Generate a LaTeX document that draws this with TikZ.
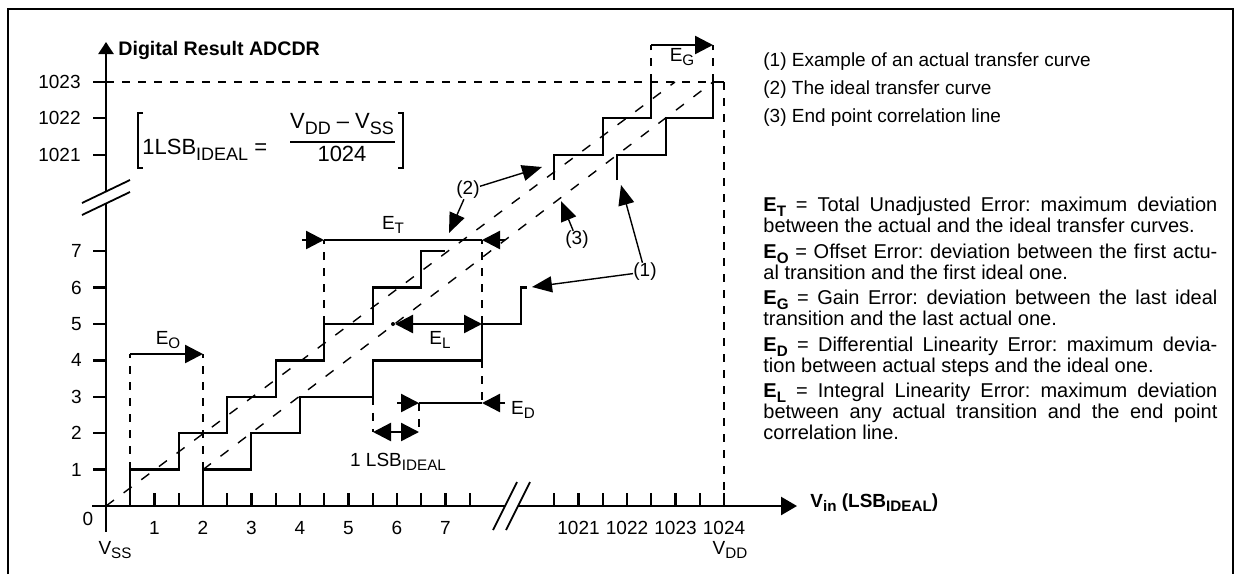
\documentclass[tikz,border=0pt]{standalone}
\usepackage{fontspec}
\setmainfont{Liberation Sans}
\usetikzlibrary{arrows.meta, positioning}

\newcommand{\subsc}[1]{\raisebox{-0.4ex}{\fontsize{7.6pt}{7.6pt}\selectfont #1}}
\newcommand{\lsbsub}[1]{\raisebox{-3pt}{\fontsize{9pt}{9pt}\selectfont #1}}
\frenchspacing

\begin{document}
\begin{tikzpicture}[
x=0.5pt, y=-0.5pt,
every node/.style={inner sep=0pt, font=\fontsize{9.5pt}{8pt}\selectfont},
outline/.style={line width=1.4pt},
axis/.style={line width=1.2pt},
stair/.style={line width=1.2pt},
guide/.style={line width=1.2pt, dash pattern=on 4pt off 4pt},
diag/.style={line width=0.7pt, dash pattern=on 5pt off 6pt},
dim/.style={line width=1.2pt, -{Triangle[length=9pt, width=9pt]}},
dimboth/.style={line width=1.2pt, {Triangle[length=9pt, width=9pt]}-{Triangle[length=9pt, width=9pt]}},
pointer/.style={line width=0.7pt, -{Triangle[length=10pt, width=8pt]}},
formula/.style={font=\fontsize{11pt}{11pt}\selectfont},
legtext/.style={anchor=west},
defn/.style={anchor=north west, text width=227pt, align=justify, font=\fontsize{10pt}{8.3pt}\selectfont,
  execute at begin node={\spaceskip=.278em plus .3em minus .12em\hyphenpenalty=10000\tolerance=10000}}
]
\useasboundingbox (0,0) rectangle (1236,574);

% Frame
\draw[outline] (8,574) -- (8,9) -- (1233,9) -- (1233,574);

% Axes
\draw[axis, -{Triangle[length=6pt, width=7.5pt]}] (106,192) -- (106,42);
\draw[axis] (106,204) -- (106,532);
\draw[axis] (92,506) -- (505,506);
\draw[axis, -{Triangle[length=8pt, width=9pt]}] (518,506) -- (797,506);

% Axis breaks
\draw[line width=0.9pt] (82,203) -- (130,180) (82,215) -- (130,192);
\draw[line width=0.9pt] (493,530) -- (517,482) (506,530) -- (530,482);

\node[anchor=west, font=\fontsize{9.8pt}{9.8pt}\selectfont] (ytitle) at (118,50) {\textbf{Digital Result ADCDR}};
\node[anchor=west] (xtitle) at (810,503) {\textbf{V\subsc{in} (LSB\subsc{IDEAL})}};

% Ticks on the digital result axis
\foreach \v/\lab in {82/1023, 118/1022, 155/1021} {
  \draw[axis] (93,\v) -- (106,\v);
  \node[anchor=east] (yhi\lab) at (81,\v) {\lab};
}
\foreach \k in {1,...,7} {
  \draw[axis] (93,{506-36.4*\k}) -- (106,{506-36.4*\k});
  \node[anchor=east] (ylo\k) at (82,{506-36.4*\k}) {\k};
}

% Ticks on the input axis
\foreach \k in {1,...,15}
  \draw[axis] ({106+24.25*\k},493) -- ({106+24.25*\k},506);
\foreach \j in {0,...,7}
  \draw[axis] ({724-24.25*\j},493) -- ({724-24.25*\j},506);
\foreach \k in {1,...,7}
  \node (xlo\k) at ({106+48.5*\k},528) {\k};
\foreach \u in {1021,...,1024}
  \node (xhi\u) at ({724-48.5*(1024-\u)},528) {\u};
\node (zero) at (88,519) {0};
\node (vss) at (115,550) {V\subsc{SS}};
\node (vdd) at (730,550) {V\subsc{DD}};

% Formula
\draw[line width=0.6pt] (143,113) -- (138,113) -- (138,168) -- (143,168);
\draw[line width=0.6pt] (398,113) -- (403,113) -- (403,168) -- (398,168);
\node[formula, anchor=base west] (lsbeq) at (142,154) {1LSB\lsbsub{IDEAL} =};
\node[formula] (lsbnum) at (342,124) {V\lsbsub{DD} \textendash\ V\lsbsub{SS}};
\node[formula] (lsbden) at (342,154) {1024};
\draw[line width=0.7pt] (290,142) -- (395,142);

% Guide lines
\draw[guide] (106,82) -- (713,82);
\draw[guide] (724,82) -- (724,506);
\draw[guide] (130,469.6) -- (130,354);
\draw[guide] (203,469.6) -- (203,354);
\draw[guide] (324,324) -- (324,240);
\draw[guide] (482,324) -- (482,240);
\draw[guide] (482,360.4) -- (482,403);
\draw[guide] (373,396.8) -- (373,432);
\draw[guide] (419,403) -- (419,432);
\draw[guide] (651,82) -- (651,45);
\draw[guide] (713,82) -- (713,45);

% Ideal and end point lines
\draw[diag] (106,506) -- (675,82);
\draw[diag] (203,469.6) -- (713,82);

% Ideal transfer curve
\draw[stair] (130,506) -- (130,469.6) -- (179,469.6) -- (179,433.2) -- (227,433.2)
  -- (227,396.8) -- (276,396.8) -- (276,360.4) -- (324,360.4) -- (324,324)
  -- (373,324) -- (373,287.6) -- (421,287.6) -- (421,251.2) -- (445,251.2);
\draw[stair] (554,180) -- (554,155) -- (603,155) -- (603,118) -- (651,118) -- (651,82);

% Actual transfer curve
\draw[stair] (203,506) -- (203,469.6) -- (251,469.6) -- (251,433.2) -- (300,433.2)
  -- (300,396.8) -- (373,396.8) -- (373,360.4) -- (482,360.4) -- (482,324)
  -- (521,324) -- (521,287.6) -- (527,287.6);
\draw[stair] (617,180) -- (617,155) -- (666,155) -- (666,118) -- (713,118) -- (713,82) -- (724,82);

% Error dimensions
\coordinate (eoL) at (130,354);
\coordinate (eoR) at (203,354);
\draw[dim] (eoL) -- (eoR);
\node (eo) at (168,340) {E\subsc{O}};

\coordinate (etL) at (324,240);
\coordinate (etR) at (482,240);
\draw[dim] (302,240) -- (etL);
\draw[dim] (505,240) -- (etR);
\draw[axis] (etL) -- (etR);
\node (et) at (393,225) {E\subsc{T}};

\coordinate (elL) at (395,324);
\coordinate (elR) at (482,324);
\fill (393,324) circle (1pt);
\draw[dimboth] (elL) -- (elR);
\node (el) at (440,340) {E\subsc{L}};

\coordinate (edL) at (419,403);
\coordinate (edR) at (482,403);
\draw[dim] (397,403) -- (edL);
\draw[dim] (505,403) -- (edR);
\draw[axis] (edL) -- (edR);
\node (ed) at (523,410) {E\subsc{D}};

\coordinate (lsbL) at (373,432);
\coordinate (lsbR) at (419,432);
\draw[dimboth] (lsbL) -- (lsbR);
\node (lsb) at (398,462) {1 LSB\subsc{IDEAL}};

\coordinate (egL) at (651,45);
\coordinate (egR) at (713,45);
\draw[dim] (egL) -- (egR);
\node (eg) at (682,57) {E\subsc{G}};

% Curve labels
\node (p2) at (468,190) {(2)};
\node (p3) at (577,240) {(3)};
\node (p1) at (645,272) {(1)};
\coordinate (p2a) at (542,167);
\coordinate (p2b) at (449,233);
\coordinate (p3a) at (561,201);
\coordinate (p1a) at (532,287);
\coordinate (p1b) at (621,185);
\draw[pointer] (p2) -- (p2a);
\draw[pointer] (p2) -- (p2b);
\draw[pointer] (p3) -- (p3a);
\draw[pointer] (p1) -- (p1a);
\draw[pointer] (p1) -- (p1b);

% Legend
\node[legtext] (leg1) at (763,62) {(1) Example of an actual transfer curve};
\node[legtext, below=14pt of leg1.west, anchor=west] (leg2) {(2) The ideal transfer curve};
\node[legtext, below=14pt of leg2.west, anchor=west] (leg3) {(3) End point correlation line};

% Definitions
\node[defn] (defT) at (763,197) {\textbf{E\subsc{T}} = Total Unadjusted Error: maximum deviation\linebreak between the actual and the ideal transfer curves.};
\node[defn] (defO) at (763,244) {\textbf{E\subsc{O}} = Offset Error: deviation between the first actu-\linebreak al transition and the first ideal one.};
\node[defn] (defG) at (763,290) {\textbf{E\subsc{G}} = Gain Error: deviation between the last ideal\linebreak transition and the last actual one.};
\node[defn] (defD) at (763,337) {\textbf{E\subsc{D}} = Differential Linearity Error: maximum devia-\linebreak tion between actual steps and the ideal one.};
\node[defn] (defL) at (763,383) {\textbf{E\subsc{L}} = Integral Linearity Error: maximum deviation\linebreak between any actual transition and the end point\linebreak correlation line.};

\end{tikzpicture}
\end{document}
